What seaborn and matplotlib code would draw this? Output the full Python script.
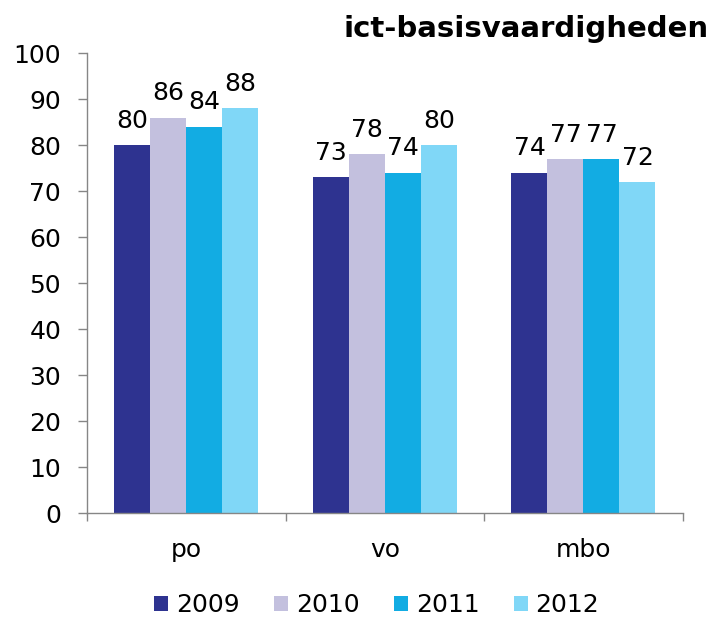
import matplotlib
matplotlib.use("Agg")
import matplotlib.pyplot as plt
import seaborn as sns
import pandas as pd
from matplotlib.patches import Patch

categories = ["po", "vo", "mbo"]
years = ["2009", "2010", "2011", "2012"]
values_2009 = [80, 73, 74]
values_2010 = [86, 78, 77]
values_2011 = [84, 74, 77]
values_2012 = [88, 80, 72]
colors = ["#2E3390", "#C3C0DE", "#12ACE3", "#80D7F7"]
title = "ict-basisvaardigheden"

series = [values_2009, values_2010, values_2011, values_2012]
rows = []
for year, vals in zip(years, series):
    for cat, v in zip(categories, vals):
        rows.append({"categorie": cat, "jaar": year, "waarde": v})
df = pd.DataFrame(rows)

sns.set_theme(style="white")
plt.rcParams["font.family"] = ["DejaVu Sans"]
plt.rcParams["text.color"] = "black"
plt.rcParams["xtick.labelcolor"] = "black"
plt.rcParams["ytick.labelcolor"] = "black"

FS = 18

fig = plt.figure(figsize=(7.12, 6.19), dpi=100)
ax = fig.add_axes([0.122, 0.171, 0.837, 0.743])

sns.barplot(data=df, x="categorie", y="waarde", hue="jaar", order=categories,
            hue_order=years, palette=colors, width=0.725, saturation=1,
            legend=False, ax=ax, errorbar=None, linewidth=0, edgecolor="none")

for container in ax.containers:
    ax.bar_label(container, fmt="%d", fontsize=FS, padding=9, color="black")

ax.set_ylim(0, 100)
ax.set_xlim(-0.5, 2.5)
ax.set_yticks(range(0, 101, 10))
ax.tick_params(axis="y", labelsize=FS, length=6.5, width=1, color="#868686",
               direction="out", pad=12, left=True, labelcolor="black")
ax.set_xticks([-0.5, 0.5, 1.5, 2.5])
ax.set_xticklabels([])
ax.set_xticks([0, 1, 2], minor=True)
ax.set_xticklabels(categories, minor=True)
ax.tick_params(axis="x", which="major", length=6, width=1, color="#868686",
               direction="out", bottom=True)
ax.tick_params(axis="x", which="minor", length=0, labelsize=FS, pad=18,
               labelcolor="black")
ax.set_xlabel("")
ax.set_ylabel("")

for side in ["top", "right"]:
    ax.spines[side].set_visible(False)
for side in ["left", "bottom"]:
    ax.spines[side].set_color("#868686")
    ax.spines[side].set_linewidth(1)

fig.text(0.995, 0.953, title, ha="right", va="center", fontsize=21,
         fontweight="bold", color="black")

handles = [Patch(facecolor=c, edgecolor="none") for c in colors]
fig.legend(handles, years, loc="center", bbox_to_anchor=(0.529, 0.022),
           ncol=4, frameon=False, fontsize=FS, handlelength=0.56,
           handleheight=0.56, handletextpad=0.32, columnspacing=1.37,
           labelcolor="black")

fig.savefig("out.png", dpi=100, facecolor="white")
